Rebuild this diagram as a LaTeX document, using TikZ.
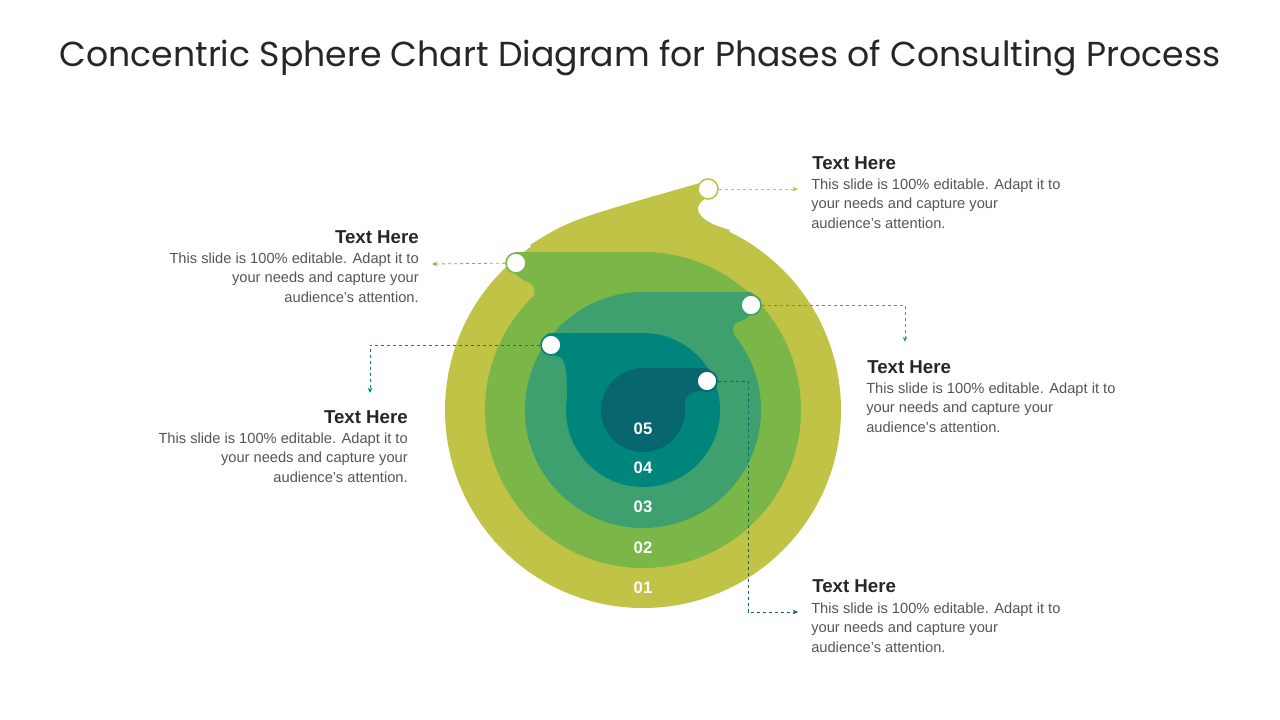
\documentclass[tikz,border=0pt]{standalone}
\usepackage{fontspec}
\setmainfont{Liberation Sans}
\newfontfamily\titlefont{Poppins}
\usetikzlibrary{arrows.meta,positioning}
\definecolor{lvlA}{RGB}{193,195,70}
\definecolor{lvlB}{RGB}{122,182,72}
\definecolor{lvlC}{RGB}{62,160,110}
\definecolor{lvlD}{RGB}{0,133,124}
\definecolor{lvlE}{RGB}{8,102,112}
\definecolor{bodygray}{RGB}{85,85,85}
\tikzset{
  dot/.style={circle, draw=#1, fill=white, line width=1.2pt, minimum size=15pt, inner sep=0pt},
  link/.style={draw=#1, dashed, dash pattern=on 2.5pt off 2pt, line width=0.6pt, -{Stealth[length=4pt,width=3.5pt]}},
  head/.style={font=\bfseries\fontsize{14}{16}\selectfont, text=black!85, inner sep=0pt},
  body/.style={font=\fontsize{11}{14.3}\selectfont, text=bodygray, inner sep=0pt, align=#1},
  num/.style={font=\bfseries\fontsize{12.5}{14}\selectfont, text=white}
}
\begin{document}
\begin{tikzpicture}[x=0.75pt, y=-0.75pt]
  \useasboundingbox (0,0) rectangle (1280,720);
  \node[font=\titlefont\fontsize{26}{30}\selectfont, text=black!85] (title) at (640,58) {Concentric Sphere Chart Diagram for Phases of Consulting Process};

  % layers, outer to inner
  \fill[lvlA] (643,410) circle (198);
  \fill[lvlA] (530,245) .. controls (570,220) .. (700,183) .. controls (714,180) and (714,195) .. (702,201)
     .. controls (692,210) and (700,222) .. (730,230) -- (643,410) -- cycle;
  \fill[lvlB] (643,410) circle (158);
  \fill[lvlB] (643,252) -- (516,252) .. controls (504,255) and (510,276) .. (528,282)
     .. controls (545,288) and (525,325) .. (510,335) -- (643,410) -- cycle;
  \fill[lvlC] (643,410) circle (118);
  \fill[lvlC] (643,292) -- (750,292) .. controls (762,295) and (755,318) .. (738,322)
     .. controls (728,326) and (735,340) .. (741,345) -- (643,410) -- cycle;
  \fill[lvlD] (643,410) circle (77);
  \fill[lvlD] (643,333) -- (550,333) .. controls (538,335) and (545,355) .. (560,357)
     .. controls (568,360) and (567,390) .. (567,410) -- (643,410) -- cycle;
  \fill[lvlE] (643,410) circle (42);
  \fill[lvlE] (643,368) -- (706,368) .. controls (718,370) and (712,390) .. (695,392)
     .. controls (686,394) and (684,400) .. (684,410) -- (643,410) -- cycle;

  \node[num] (n5) at (643,429) {05};
  \node[num] (n4) at (643,468) {04};
  \node[num] (n3) at (643,507) {03};
  \node[num] (n2) at (643,548) {02};
  \node[num] (n1) at (643,588) {01};

  % markers
  \node[dot=lvlA] (d1) at (708,189) {};
  \node[dot=lvlB] (d2) at (516,263) {};
  \node[dot=lvlC] (d3) at (751,305) {};
  \node[dot=lvlD] (d4) at (551,345) {};
  \node[dot=lvlE] (d5) at (707,381) {};

  % end points
  \coordinate (e1) at (798,189);
  \coordinate (e2) at (432,264);
  \coordinate (e3) at (905,342);
  \coordinate (e4) at (370,393);
  \coordinate (e5) at (798,612);

  \draw[link=lvlA] (d1) -- (e1);
  \draw[link=lvlB] (d2) -- (e2);
  \draw[link=lvlC] (d3) -| (e3);
  \draw[link=lvlD] (d4) -| (e4);
  \draw[link=lvlE] (d5) -- (748,381) -- (748,612) -- (e5);

  % texts
  \node[head, anchor=west] (h1) at (812,163) {Text Here};
  \node[body=left, anchor=north west] (b1) at (811,179) {This slide is 100\% editable. Adapt it to\\your needs and capture your\\audience's attention.};
  \node[head, anchor=east] (h2) at (419,237) {Text Here};
  \node[body=right, anchor=north east] (b2) at (419,253) {This slide is 100\% editable. Adapt it to\\your needs and capture your\\audience's attention.};
  \node[head, anchor=west] (h3) at (867,367) {Text Here};
  \node[body=left, anchor=north west] (b3) at (866,383) {This slide is 100\% editable. Adapt it to\\your needs and capture your\\audience's attention.};
  \node[head, anchor=east] (h4) at (408,417) {Text Here};
  \node[body=right, anchor=north east] (b4) at (408,433) {This slide is 100\% editable. Adapt it to\\your needs and capture your\\audience's attention.};
  \node[head, anchor=west] (h5) at (812,586) {Text Here};
  \node[body=left, anchor=north west] (b5) at (811,603) {This slide is 100\% editable. Adapt it to\\your needs and capture your\\audience's attention.};
\end{tikzpicture}
\end{document}
